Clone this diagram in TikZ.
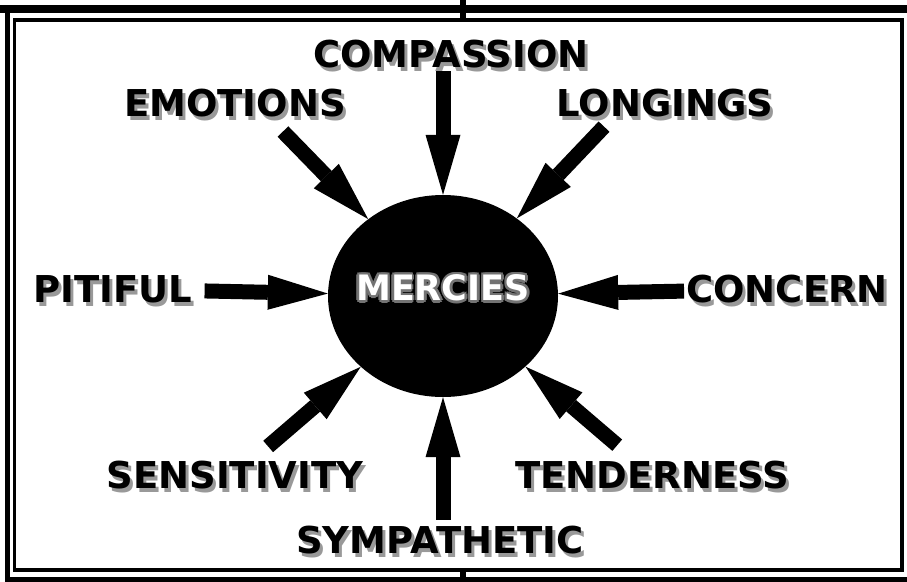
\documentclass[tikz,border=0pt]{standalone}
\usepackage{fontspec}
\newfontfamily\wordfont{DejaVu Sans}
\usetikzlibrary{shapes.geometric, arrows.meta}

\begin{document}
\begin{tikzpicture}[x=1pt, y=-1pt,
  word/.style={font=\wordfont\bfseries\fontsize{#1}{#1}\selectfont, inner sep=0pt},
  word/.default=37,
  ghost/.style={word, text=black!40, xshift=3pt, yshift=-4pt},
  rim/.style={word=35, text=black!55},
  push/.style={line width=15pt, -{Triangle[length=60pt, width=35pt, line width=0pt]}},
  hub/.style={ellipse, fill=black, minimum width=230pt, minimum height=202pt, inner sep=0pt}]
\useasboundingbox (0,0) rectangle (907,581);

% frame
\draw [line width=8pt] (0,9) -- (907,9);
\draw [line width=5pt] (7.5,9) -- (7.5,579.5) -- (907,579.5);
\draw [line width=3.5pt] (14.5,20) rectangle (902,570);
\draw [line width=6pt] (463,0) -- (463,20);
\draw [line width=6pt] (463,570) -- (463,581);

% centre
\node (merc) [hub] at (443,296) {};
\foreach \a in {0,45,...,315}
  \node [rim] at ([shift={(\a:2.5pt)}, yshift=8pt]merc) {MERCIES};
\node (mercies) [word=35, text=white] at ([yshift=8pt]merc) {MERCIES};

% words round it
\foreach \n/\p/\t in {comp/{(451,54)}/COMPASSION, emot/{(235,103)}/EMOTIONS,
    long/{(665,103)}/LONGINGS, piti/{(113,289)}/PITIFUL, conc/{(787,289)}/CONCERN,
    sens/{(235,475)}/SENSITIVITY, tend/{(652,475)}/TENDERNESS, symp/{(440,540)}/SYMPATHETIC} {
  \node [ghost] at \p {\t};
  \node (\n) [word] at \p {\t};
}

\draw [push, shorten <=3pt] (comp.south -| merc) -- (merc);
\draw [push, shorten <=20pt] ([xshift=34pt]emot.south) -- (merc);
\draw [push, shorten <=13pt] ([xshift=-52pt]long.south) -- (merc);
\draw [push, shorten <=12pt] (piti) -- (merc);
\draw [push, shorten <=2pt] (conc) -- (merc);
\draw [push, shorten <=22pt] (sens) -- (merc);
\draw [push, shorten <=24pt] (tend) -- (merc);
\draw [push, shorten <=6pt] (symp.north -| merc) -- (merc);
\end{tikzpicture}
\end{document}
